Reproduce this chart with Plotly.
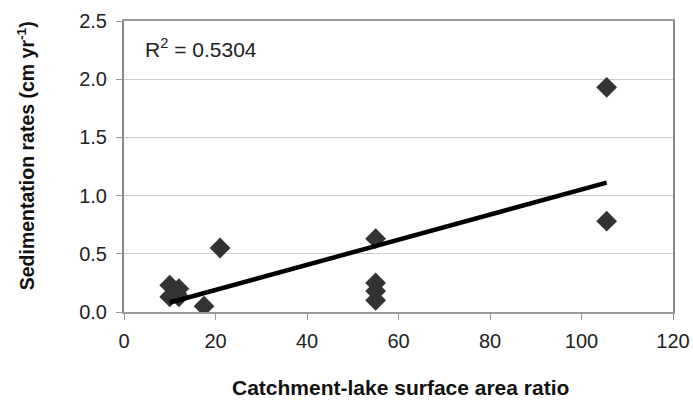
import numpy as np
import plotly.graph_objects as go

ratio = [10, 12, 10, 11.5, 12, 17.5, 21, 55, 55, 55, 55, 105.5, 105.5]
sed_rate = [0.23, 0.20, 0.13, 0.16, 0.13, 0.05, 0.55, 0.63, 0.25, 0.18, 0.10, 1.93, 0.78]
r2_label = "R<sup>2</sup> = 0.5304"
x_ticks = [0, 20, 40, 60, 80, 100, 120]
y_ticks = [0.0, 0.5, 1.0, 1.5, 2.0, 2.5]

slope, intercept = np.polyfit(ratio, sed_rate, 1)
trend_x = [min(ratio), max(ratio)]
trend_y = [slope * v + intercept for v in trend_x]

fig = go.Figure()
fig.add_trace(go.Scatter(
    x=ratio, y=sed_rate, mode="markers",
    marker=dict(symbol="diamond", size=16, color="#333333"),
    showlegend=False))
fig.add_trace(go.Scatter(
    x=trend_x, y=trend_y, mode="lines",
    line=dict(color="black", width=4.5), showlegend=False))

font = "Liberation Sans, Arial, sans-serif"
fig.update_layout(
    width=693, height=413,
    margin=dict(l=124, r=20, t=21, b=101),
    paper_bgcolor="white", plot_bgcolor="white",
    font=dict(family=font, size=20, color="#222222"),
    xaxis=dict(range=[0, 120], tickvals=x_ticks, ticktext=[str(v) for v in x_ticks],
               showgrid=False, zeroline=False, showline=True, linecolor="#999999",
               linewidth=2, mirror=True, ticks="outside", ticklen=6, tickcolor="#999999",
               tickfont=dict(size=20), ticklabelstandoff=4, automargin=False),
    yaxis=dict(range=[0, 2.5], tickvals=y_ticks, ticktext=["%.1f" % v for v in y_ticks],
               showgrid=True, gridcolor="#cccccc", gridwidth=1, zeroline=False,
               showline=True, linecolor="#888888", linewidth=2, mirror=True,
               ticks="outside", ticklen=6, tickcolor="#999999",
               tickfont=dict(size=20), ticklabelstandoff=5, automargin=False),
    annotations=[
        dict(text=r2_label, x=0.035, y=0.96, xref="paper", yref="paper",
             xanchor="left", yanchor="top", showarrow=False,
             font=dict(size=21, color="#222222")),
        dict(text="<b>Catchment-lake surface area ratio</b>", x=0.503, y=-0.261,
             xref="paper", yref="paper", xanchor="center", yanchor="middle",
             showarrow=False, font=dict(size=21, color="#111111")),
        dict(text="<b>Sedimentation rates (cm yr<sup>-1</sup>)</b>", x=-0.178, y=0.536,
             xref="paper", yref="paper", xanchor="center", yanchor="middle",
             textangle=-90, showarrow=False, font=dict(size=19.5, color="#111111")),
    ],
)
fig.write_html("out.html", config={"displayModeBar": False},
               post_script="document.body.style.margin='0';document.body.style.overflow='hidden';")
